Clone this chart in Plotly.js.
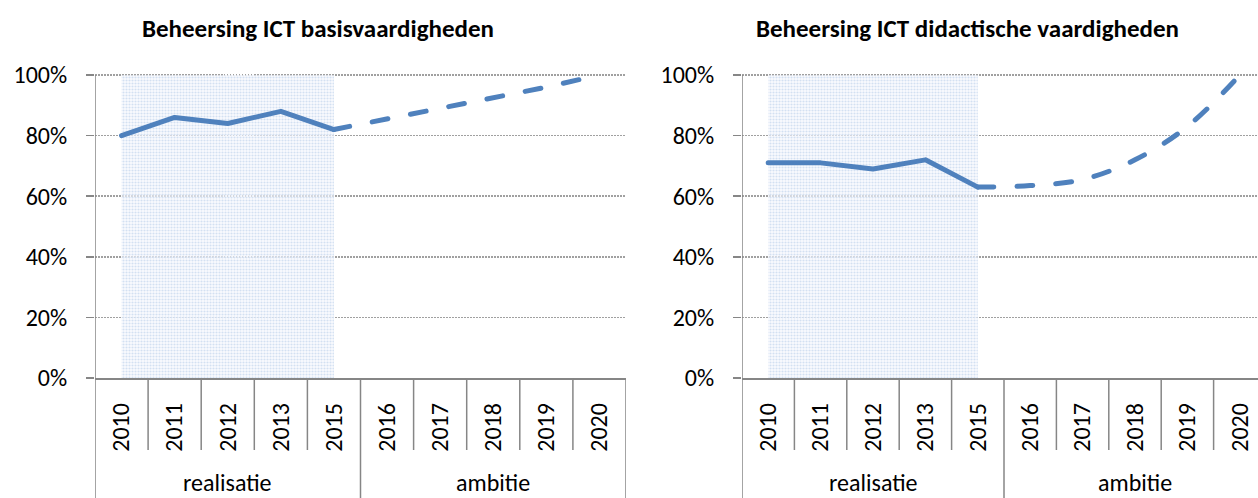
<!DOCTYPE html>
<html>
<head>
<meta charset="utf-8">
<script src="https://cdn.plot.ly/plotly-3.0.1.min.js"></script>
<style>
html,body{margin:0;padding:0;background:#fff;}
#chart{width:1258px;height:498px;}
.js-line{stroke-linecap:round;stroke-linejoin:round;}
</style>
</head>
<body>
<div id="chart"></div>
<script>
// ---- data ----
const years = ['2010','2011','2012','2013','2015','2016','2017','2018','2019','2020'];
const realYears = ['2010','2011','2012','2013','2015'];
const ambYears = ['2015','2016','2017','2018','2019','2020'];
const groupLabels = ['realisatie','ambitie'];
const titles = ['Beheersing ICT basisvaardigheden','Beheersing ICT didactische vaardigheden'];
const basisReal = [0.80, 0.86, 0.84, 0.88, 0.82];
const basisAmb = [0.82, 0.855, 0.89, 0.925, 0.96, 1.00];
const didReal = [0.71, 0.71, 0.69, 0.72, 0.63];
const didAmb = [0.63, 0.635, 0.655, 0.72, 0.83, 1.00];
const shade = [1, 1, 1, 1, 1];
const yTicks = [0, 0.2, 0.4, 0.6, 0.8, 1.0];

// ---- layout helpers ----
const H = 498, W = 1258;
const py = p => (H - p) / H;           // pixel y -> paper y
const FONT = 'Carlito, Lato, sans-serif';
const BLUE = '#4f81bd';
const GRAY = '#868686';
const y0px = 378, y100px = 75;
const yTop = 1 + 5 / (y0px - y100px);
const TICK = 24;

const traces = [];
[[basisReal, basisAmb, 'linear'], [didReal, didAmb, 'spline']].forEach((s, i) => {
  const xa = i === 0 ? 'x' : 'x2', ya = i === 0 ? 'y' : 'y2';
  traces.push({x: realYears, y: shade, xaxis: xa, yaxis: ya, type: 'scatter', mode: 'none',
    fill: 'tozeroy', fillcolor: 'rgba(230,238,248,0.5)',
    fillpattern: {shape: '.', fgcolor: '#d3e0f2', bgcolor: 'rgba(246,249,253,0.6)', size: 3, solidity: 0.4},
    hoverinfo: 'skip'});
  traces.push({x: realYears, y: s[0], xaxis: xa, yaxis: ya, type: 'scatter', mode: 'lines',
    line: {color: BLUE, width: 5}});
  traces.push({x: ambYears, y: s[1], xaxis: xa, yaxis: ya, type: 'scatter', mode: 'lines',
    line: {color: BLUE, width: 5, dash: '16px,23px', shape: s[2], smoothing: 1}});
});

function xaxis(domain, range) {
  return {domain: domain, type: 'category', categoryorder: 'array', categoryarray: years,
    range: range, showgrid: false, zeroline: false, showline: true, linecolor: GRAY, linewidth: 1.5,
    ticks: '', tickangle: -90, ticklabelstandoff: 14,
    tickfont: {family: FONT, size: TICK, color: '#000'}, fixedrange: true};
}
function yaxis(anchor) {
  return {domain: [py(y0px), py(y100px - 5)], range: [0, yTop], anchor: anchor,
    tickvals: yTicks, tickformat: '.0%', showgrid: true, gridcolor: '#a0a0a0', gridwidth: 1.5,
    griddash: '1.5px,1.5px', zeroline: false, showline: false,
    ticks: 'outside', ticklen: 8, tickwidth: 1.5, tickcolor: GRAY, ticklabelstandoff: 14,
    tickfont: {family: FONT, size: TICK, color: '#000'}, fixedrange: true};
}

const shapes = [];
const annotations = [];
['x', 'x2'].forEach((xr, i) => {
  const lineS = {color: GRAY, width: 1.5};
  shapes.push({type: 'line', xref: xr, yref: 'paper', x0: -0.5, x1: -0.5, y0: py(y100px), y1: 0, line: lineS});
  for (let k = 0; k < 9; k++) {
    shapes.push({type: 'line', xref: xr, yref: 'paper', x0: k + 0.5, x1: k + 0.5,
      y0: py(y0px), y1: k === 4 ? 0 : py(450), line: lineS});
  }
  shapes.push({type: 'line', xref: xr, yref: 'paper', x0: 9.5, x1: 9.5, y0: py(y0px), y1: 0, line: lineS});
  annotations.push({xref: xr, yref: 'paper', x: 2, y: 0, text: groupLabels[0], showarrow: false,
    font: {family: FONT, size: TICK, color: '#000'}, xanchor: 'center', yanchor: 'bottom', borderpad: 0});
  annotations.push({xref: xr, yref: 'paper', x: 7, y: 0, text: groupLabels[1], showarrow: false,
    font: {family: FONT, size: TICK, color: '#000'}, xanchor: 'center', yanchor: 'bottom', borderpad: 0});
});
annotations.push({xref: 'paper', yref: 'paper', x: 318 / W, y: py(28), text: '<b>' + titles[0] + '</b>',
  showarrow: false, font: {family: FONT, size: 25, color: '#000'}, xanchor: 'center', yanchor: 'middle'});
annotations.push({xref: 'paper', yref: 'paper', x: 967 / W, y: py(28), text: '<b>' + titles[1] + '</b>',
  showarrow: false, font: {family: FONT, size: 25, color: '#000'}, xanchor: 'center', yanchor: 'middle'});

const layout = {
  width: W, height: H, margin: {l: 0, r: 0, t: 0, b: 0}, showlegend: false,
  paper_bgcolor: '#fff', plot_bgcolor: 'rgba(0,0,0,0)',
  xaxis: xaxis([95 / W, 626 / W], [-0.5, 9.5]),
  yaxis: yaxis('x'),
  xaxis2: xaxis([742 / W, 1], [-0.5, -0.5 + (W - 742) / 52.4]),
  yaxis2: yaxis('x2'),
  shapes: shapes, annotations: annotations
};
layout.xaxis.anchor = 'y';
layout.xaxis2.anchor = 'y2';

Plotly.newPlot('chart', traces, layout, {staticPlot: true, displayModeBar: false});
</script>
</body>
</html>
